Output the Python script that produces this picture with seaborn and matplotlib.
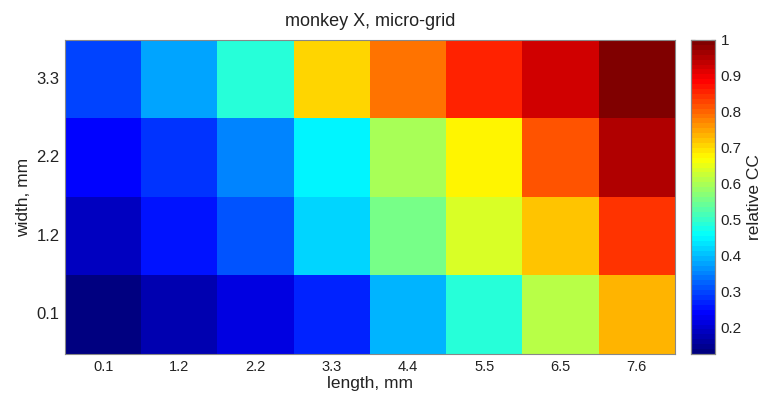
import numpy as np
import pandas as pd
import matplotlib
matplotlib.use("Agg")
import matplotlib.pyplot as plt
from matplotlib.colors import LinearSegmentedColormap
import seaborn as sns

# Grid coordinates (mm)
lengths = ["0.1", "1.2", "2.2", "3.3", "4.4", "5.5", "6.5", "7.6"]
widths = ["3.3", "2.2", "1.2", "0.1"]  # top row first

# Relative CC per (width, length) cell
cc_w33 = [0.294, 0.372, 0.488, 0.700, 0.790, 0.860, 0.930, 1.000]
cc_w22 = [0.235, 0.278, 0.345, 0.453, 0.600, 0.680, 0.818, 0.948]
cc_w12 = [0.187, 0.252, 0.307, 0.414, 0.562, 0.637, 0.720, 0.847]
cc_w01 = [0.125, 0.167, 0.208, 0.270, 0.385, 0.488, 0.610, 0.740]

cbar_ticks = [0.2, 0.3, 0.4, 0.5, 0.6, 0.7, 0.8, 0.9, 1.0]
cbar_ticklabels = ["0.2", "0.3", "0.4", "0.5", "0.6", "0.7", "0.8", "0.9", "1"]

df = pd.DataFrame([cc_w33, cc_w22, cc_w12, cc_w01], index=widths, columns=lengths)

# Classic 64-level jet
jet64 = LinearSegmentedColormap(
    "jet64",
    {
        "red": [(0, 0, 0), (3 / 8, 0, 0), (5 / 8, 1, 1), (7 / 8, 1, 1), (1, 0.5, 0.5)],
        "green": [(0, 0, 0), (1 / 8, 0, 0), (3 / 8, 1, 1), (5 / 8, 1, 1), (7 / 8, 0, 0), (1, 0, 0)],
        "blue": [(0, 0.5, 0.5), (1 / 8, 1, 1), (3 / 8, 1, 1), (5 / 8, 0, 0), (1, 0, 0)],
    },
    N=64,
)

sns.set_style("white")
plt.rcParams["font.family"] = ["Liberation Sans", "DejaVu Sans"]

XTICK_FS = 10.5
YTICK_FS = 12
CBAR_FS = 11
TITLE_FS = 13
LABEL_FS = 12.5
TEXT_COLOR = "#222222"

fig = plt.figure(figsize=(7.62, 3.98), dpi=100)
ax = fig.add_axes([0.0853, 0.1106, 0.8005, 0.7889])
cax = fig.add_axes([0.9068, 0.1106, 0.0315, 0.7889])

sns.heatmap(df, cmap=jet64, vmin=0.125, vmax=1.0, ax=ax, cbar_ax=cax,
            linewidths=0, square=False)

ax.set_title("monkey X, micro-grid", fontsize=TITLE_FS, pad=10, color=TEXT_COLOR)
ax.set_xlabel("length, mm", fontsize=LABEL_FS, labelpad=2, color=TEXT_COLOR)
ax.set_ylabel("width, mm", fontsize=LABEL_FS, labelpad=4, color=TEXT_COLOR)
ax.tick_params(axis="both", direction="in", length=3.5, width=0.8, color="#222222",
               labelcolor=TEXT_COLOR, bottom=True, left=True, top=True, right=True)
ax.tick_params(axis="x", labelsize=XTICK_FS, pad=4, rotation=0)
ax.tick_params(axis="y", labelsize=YTICK_FS, pad=4, rotation=0)
for s in ax.spines.values():
    s.set_visible(True)
    s.set_color("#888888")
    s.set_linewidth(0.8)

cax.set_yticks(cbar_ticks)
cax.set_yticklabels(cbar_ticklabels)
cax.tick_params(axis="y", direction="in", length=3, width=0.8, color="#222222",
                labelsize=CBAR_FS, labelcolor=TEXT_COLOR, left=True, right=True, pad=4)
cax.set_ylabel("relative CC", fontsize=LABEL_FS, labelpad=4, color=TEXT_COLOR)
cax.yaxis.set_label_position("right")
for s in cax.spines.values():
    s.set_visible(True)
    s.set_color("#888888")
    s.set_linewidth(0.8)

fig.savefig("out.png", dpi=100)
